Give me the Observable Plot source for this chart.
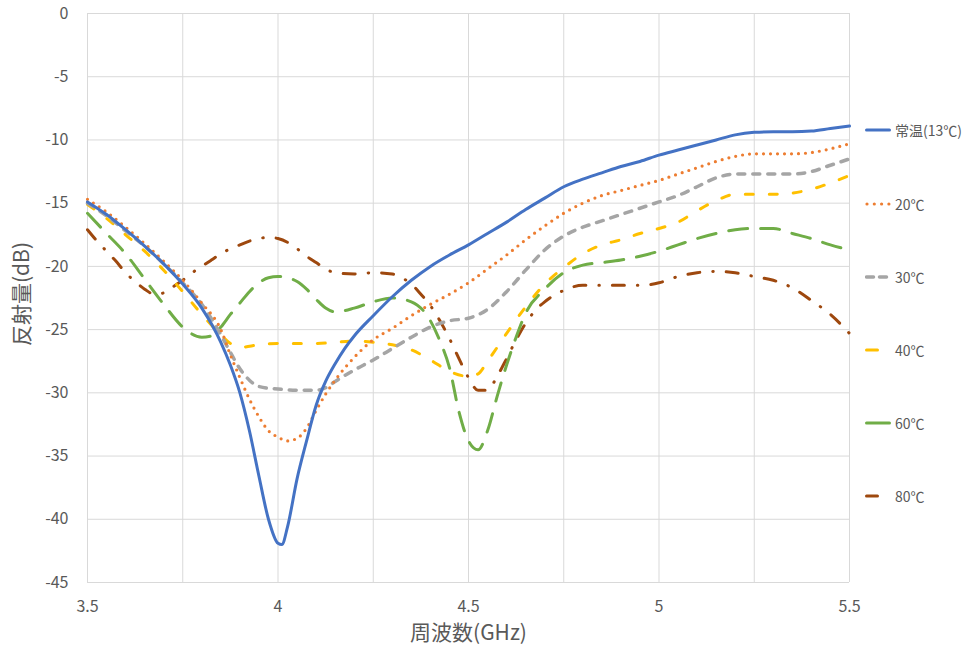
<!DOCTYPE html>
<html><head><meta charset="utf-8">
<script src="https://cdn.jsdelivr.net/npm/d3@7"></script>
<script src="https://cdn.jsdelivr.net/npm/@observablehq/plot@0.6"></script>
<style>
body{margin:0;background:#fff;font-family:"Noto Sans CJK JP","Noto Sans",sans-serif;}
#wrap{position:relative;width:966px;height:654px;overflow:hidden;}
#legend{position:absolute;left:865px;top:0;width:101px;height:654px;}
.item{position:absolute;left:0;display:flex;align-items:center;height:20px;white-space:nowrap;font-size:14px;color:#595959;}
.item svg{display:block;margin-right:2px;}
</style></head><body>
<div id="wrap"><div id="chart"></div><div id="legend"></div></div>
<script>
// ---- data (frequency GHz, reflection dB) ----
const seriesNames = ["常温(13℃)", "20℃", "30℃", "40℃", "60℃", "80℃"];
const xTicks = [3.5, 4, 4.5, 5, 5.5];
const yTicks = [0, -5, -10, -15, -20, -25, -30, -35, -40, -45];
const xGrid = [3.5, 3.75, 4, 4.25, 4.5, 4.75, 5, 5.25, 5.5];
const xTitle = "周波数(GHz)";
const yTitle = "反射量(dB)";

const s13 = [[3.5,-14.9],[3.55,-15.9],[3.6,-17.1],[3.65,-18.4],[3.7,-19.8],[3.75,-21.4],[3.8,-23.3],[3.85,-26.0],[3.875,-27.8],[3.9,-30.0],[3.925,-33.0],[3.95,-36.6],[3.975,-40.0],[4.0,-41.9],[4.01,-42.0],[4.025,-40.6],[4.05,-36.8],[4.075,-33.8],[4.1,-31.0],[4.125,-29.1],[4.15,-27.7],[4.175,-26.5],[4.2,-25.5],[4.25,-23.9],[4.3,-22.4],[4.35,-21.1],[4.4,-20.0],[4.45,-19.1],[4.5,-18.3],[4.55,-17.4],[4.6,-16.5],[4.65,-15.5],[4.7,-14.6],[4.75,-13.7],[4.8,-13.1],[4.85,-12.6],[4.9,-12.1],[4.95,-11.7],[5.0,-11.2],[5.05,-10.8],[5.1,-10.4],[5.15,-10.0],[5.2,-9.6],[5.25,-9.4],[5.3,-9.35],[5.35,-9.35],[5.4,-9.3],[5.45,-9.1],[5.5,-8.9]];
const s20 = [[3.5,-14.7],[3.55,-15.7],[3.6,-16.9],[3.65,-18.2],[3.7,-19.6],[3.75,-21.1],[3.8,-22.9],[3.85,-25.0],[3.875,-27.0],[3.9,-28.8],[3.925,-30.5],[3.95,-31.9],[3.975,-33.0],[4.0,-33.5],[4.025,-33.8],[4.05,-33.6],[4.075,-32.8],[4.1,-31.4],[4.125,-30.1],[4.15,-29.0],[4.2,-27.2],[4.25,-25.8],[4.3,-24.9],[4.35,-23.9],[4.4,-23.0],[4.45,-22.2],[4.5,-21.3],[4.55,-20.2],[4.6,-19.1],[4.65,-17.9],[4.7,-16.8],[4.75,-15.8],[4.8,-15.0],[4.85,-14.4],[4.9,-14.0],[4.95,-13.6],[5.0,-13.2],[5.05,-12.7],[5.1,-12.2],[5.15,-11.7],[5.2,-11.3],[5.25,-11.1],[5.3,-11.1],[5.35,-11.1],[5.4,-11.0],[5.45,-10.7],[5.5,-10.3]];
const s30 = [[3.5,-15.0],[3.55,-16.0],[3.6,-17.2],[3.65,-18.4],[3.7,-19.8],[3.75,-21.3],[3.8,-23.0],[3.85,-25.4],[3.875,-26.8],[3.9,-28.1],[3.925,-29.0],[3.95,-29.5],[4.0,-29.7],[4.05,-29.8],[4.1,-29.8],[4.125,-29.6],[4.15,-29.1],[4.2,-28.2],[4.25,-27.4],[4.3,-26.5],[4.35,-25.6],[4.4,-24.8],[4.45,-24.3],[4.5,-24.1],[4.55,-23.4],[4.6,-22.0],[4.65,-20.3],[4.7,-18.7],[4.75,-17.6],[4.8,-16.9],[4.85,-16.4],[4.9,-15.9],[4.95,-15.4],[5.0,-14.9],[5.05,-14.4],[5.1,-13.7],[5.15,-13.0],[5.2,-12.7],[5.25,-12.7],[5.3,-12.7],[5.35,-12.7],[5.4,-12.5],[5.45,-12.0],[5.5,-11.5]];
const s40 = [[3.5,-15.1],[3.55,-16.2],[3.6,-17.5],[3.65,-18.8],[3.7,-20.3],[3.75,-22.0],[3.8,-23.8],[3.85,-25.4],[3.875,-26.1],[3.9,-26.4],[3.95,-26.2],[4.0,-26.1],[4.05,-26.1],[4.1,-26.1],[4.15,-26.0],[4.2,-25.9],[4.25,-26.0],[4.3,-26.2],[4.35,-26.6],[4.4,-27.4],[4.45,-28.3],[4.5,-28.7],[4.525,-28.5],[4.55,-27.5],[4.6,-25.3],[4.65,-23.2],[4.7,-21.4],[4.75,-20.1],[4.8,-19.0],[4.85,-18.3],[4.9,-17.9],[4.95,-17.4],[5.0,-17.0],[5.05,-16.5],[5.1,-15.6],[5.15,-14.8],[5.2,-14.3],[5.25,-14.3],[5.3,-14.3],[5.35,-14.2],[5.4,-13.9],[5.45,-13.4],[5.5,-12.8]];
const s60 = [[3.5,-15.8],[3.55,-17.4],[3.6,-19.0],[3.65,-21.0],[3.7,-23.0],[3.75,-24.8],[3.8,-25.6],[3.825,-25.5],[3.85,-24.8],[3.875,-23.8],[3.9,-22.9],[3.925,-22.0],[3.95,-21.3],[3.975,-20.9],[4.0,-20.8],[4.025,-20.9],[4.05,-21.2],[4.075,-21.8],[4.1,-22.6],[4.125,-23.3],[4.15,-23.6],[4.2,-23.3],[4.25,-22.8],[4.3,-22.5],[4.35,-22.8],[4.4,-24.3],[4.425,-25.9],[4.45,-28.0],[4.475,-31.5],[4.5,-33.8],[4.525,-34.5],[4.55,-33.0],[4.575,-30.3],[4.6,-27.8],[4.625,-25.6],[4.65,-23.7],[4.7,-21.8],[4.75,-20.5],[4.8,-19.9],[4.85,-19.7],[4.9,-19.5],[4.95,-19.2],[5.0,-18.8],[5.05,-18.3],[5.1,-17.8],[5.15,-17.4],[5.2,-17.1],[5.25,-17.0],[5.3,-17.0],[5.35,-17.4],[5.4,-17.8],[5.45,-18.3],[5.5,-18.7]];
const s80 = [[3.5,-17.1],[3.525,-18.0],[3.55,-18.8],[3.575,-19.6],[3.6,-20.5],[3.625,-21.2],[3.65,-21.8],[3.675,-22.2],[3.7,-22.1],[3.725,-21.6],[3.75,-21.1],[3.775,-20.5],[3.8,-20.0],[3.825,-19.5],[3.85,-19.0],[3.875,-18.6],[3.9,-18.3],[3.925,-18.0],[3.95,-17.8],[3.975,-17.7],[4.0,-17.8],[4.025,-18.1],[4.05,-18.6],[4.075,-19.2],[4.1,-19.7],[4.125,-20.2],[4.15,-20.5],[4.2,-20.6],[4.25,-20.5],[4.3,-20.6],[4.325,-20.9],[4.35,-21.4],[4.375,-22.2],[4.4,-23.1],[4.425,-24.3],[4.45,-25.7],[4.475,-27.3],[4.5,-28.8],[4.525,-29.8],[4.55,-29.8],[4.575,-28.7],[4.6,-27.3],[4.625,-25.8],[4.65,-24.5],[4.675,-23.5],[4.7,-22.8],[4.75,-21.9],[4.8,-21.5],[4.85,-21.5],[4.9,-21.5],[4.95,-21.5],[5.0,-21.3],[5.05,-20.8],[5.1,-20.5],[5.15,-20.4],[5.2,-20.5],[5.25,-20.8],[5.3,-21.1],[5.35,-21.7],[5.4,-22.7],[5.45,-23.8],[5.5,-25.3]];

const seriesData = [s13, s20, s30, s40, s60, s80];
const colors = ["#4472C4", "#ED7D31", "#A5A5A5", "#FFC000", "#70AD47", "#9E480E"];
const dashes = [null, "0,7", "7,8", "8,16", "19,13", "12,13,0.5,13"];
const widths = [3, 3.2, 3.5, 3, 3, 3];

const fmt = d => String(d);
const lineMarks = seriesData.map((pts, i) => Plot.line(pts.map(([f, v]) => ({f, v})), {
  x: "f", y: "v", stroke: colors[i], strokeWidth: widths[i],
  strokeDasharray: dashes[i] || undefined, strokeLinecap: "round", strokeLinejoin: "round",
  curve: "monotone-x"
}));

const chart = Plot.plot({
  width: 966, height: 654,
  marginLeft: 87, marginRight: 117, marginTop: 13, marginBottom: 72,
  style: {fontFamily: '"Noto Sans CJK JP","Noto Sans",sans-serif', fontSize: "16px", color: "#595959", background: "#fff"},
  x: {domain: [3.5, 5.5], ticks: xTicks, tickFormat: fmt, tickSize: 0, tickPadding: 18, label: null},
  y: {domain: [-45, 0], ticks: yTicks, tickFormat: fmt, tickSize: 0, tickPadding: 19, label: null},
  marks: [
    Plot.ruleX(xGrid, {stroke: "#d9d9d9", strokeWidth: 1}),
    Plot.ruleY(yTicks, {stroke: "#d9d9d9", strokeWidth: 1}),
    ...lineMarks.slice().reverse(),
    Plot.text([yTitle], {frameAnchor: "left", dx: -65, dy: -4, rotate: -90, text: d => d, fontSize: 21, textAnchor: "middle", fill: "#595959"}),
    Plot.text([xTitle], {frameAnchor: "bottom", dy: 57, text: d => d, fontSize: 21, textAnchor: "middle", fill: "#595959"})
  ]
});
document.getElementById("chart").appendChild(chart);

// legend
const legendY = [130, 204, 277, 350, 423, 496];
const sampleLen = [26, 26, 26, 14, 26, 14];
const legend = document.getElementById("legend");
seriesNames.forEach((name, i) => {
  const item = document.createElement("div");
  item.className = "item";
  item.style.top = (legendY[i] - 10) + "px";
  const ns = "http://www.w3.org/2000/svg";
  const svg = document.createElementNS(ns, "svg");
  svg.setAttribute("width", 28); svg.setAttribute("height", 20);
  const ln = document.createElementNS(ns, "line");
  const x1 = 1.5, x2 = 1.5 + sampleLen[i] - 3;
  ln.setAttribute("x1", i === 1 ? 2 : x1); ln.setAttribute("x2", i === 1 ? 26 : x2);
  ln.setAttribute("y1", 10); ln.setAttribute("y2", 10);
  ln.setAttribute("stroke", colors[i]); ln.setAttribute("stroke-width", widths[i]);
  ln.setAttribute("stroke-linecap", "round");
  if (i === 1) ln.setAttribute("stroke-dasharray", "0,7.3");
  if (i === 2) ln.setAttribute("stroke-dasharray", "7,6");
  svg.appendChild(ln);
  item.appendChild(svg);
  const t = document.createElement("span");
  t.textContent = name;
  item.appendChild(t);
  legend.appendChild(item);
});
</script>
</body></html>
